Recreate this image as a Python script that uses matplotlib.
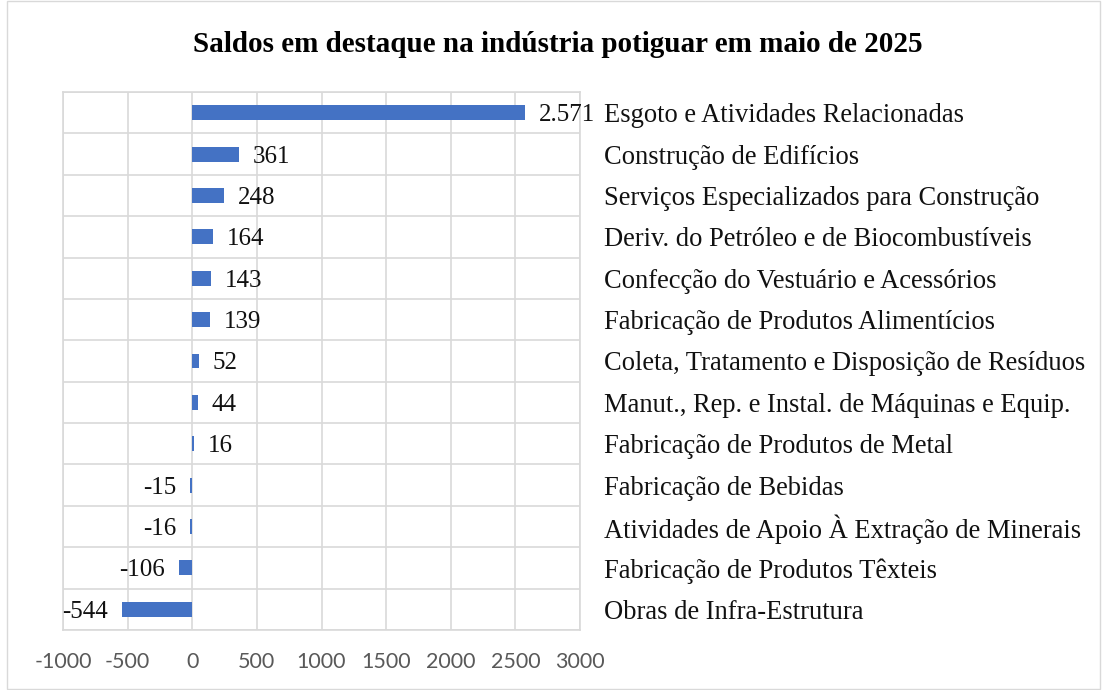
import matplotlib
matplotlib.use("Agg")
import matplotlib.pyplot as plt
import numpy as np

categories = [
    "Esgoto e Atividades Relacionadas",
    "Construção de Edifícios",
    "Serviços Especializados para Construção",
    "Deriv. do Petróleo e de Biocombustíveis",
    "Confecção do Vestuário e Acessórios",
    "Fabricação de Produtos Alimentícios",
    "Coleta, Tratamento e Disposição de Resíduos",
    "Manut., Rep. e Instal. de Máquinas e Equip.",
    "Fabricação de Produtos de Metal",
    "Fabricação de Bebidas",
    "Atividades de Apoio À Extração de Minerais",
    "Fabricação de Produtos Têxteis",
    "Obras de Infra-Estrutura",
]
values = [2571, 361, 248, 164, 143, 139, 52, 44, 16, -15, -16, -106, -544]
value_labels = ["2.571", "361", "248", "164", "143", "139", "52", "44", "16",
                "-15", "-16", "-106", "-544"]
xticks = [-1000, -500, 0, 500, 1000, 1500, 2000, 2500, 3000]
title = "Saldos em destaque na indústria potiguar em maio de 2025"

W, H = 1102, 690
fig = plt.figure(figsize=(W / 100, H / 100), dpi=100)
# figure border
fig.patches.append(plt.Rectangle((7 / W, 0.002), (W - 9) / W, 0.996, transform=fig.transFigure,
                                 fill=False, edgecolor="#D9D9D9", linewidth=1))

ax = fig.add_axes([63 / W, 1 - 630 / H, (580 - 63) / W, (630 - 92) / H])
n = len(categories)
ypos = np.arange(n)[::-1]
ax.barh(ypos, values, height=0.36, color="#4472C4", zorder=3)

serif = ["Liberation Serif", "DejaVu Serif"]
for y, v, lab in zip(ypos, values, value_labels):
    if v >= 0:
        ax.annotate(lab, (v, y), xytext=(10, 0), textcoords="offset points",
                    ha="left", va="center_baseline", fontsize=18, family=serif, color="#111111")
    else:
        ax.annotate(lab, (v, y), xytext=(-10, 0), textcoords="offset points",
                    ha="right", va="center_baseline", fontsize=18, family=serif, color="#111111")

ax.set_xlim(-1000, 3000)
ax.set_ylim(-0.5, n - 0.5)
ax.set_xticks(xticks)
ax.set_xticklabels([str(t) for t in xticks], family=["Lato", "DejaVu Sans"], fontsize=15.5, color="#595959")
ax.tick_params(axis="x", length=0, pad=16)

ax.set_yticks(ypos)
ax.set_yticklabels(categories, family=serif, fontsize=19.1, color="#111111")
ax.yaxis.tick_right()
ax.tick_params(axis="y", length=0, pad=17)
ax.set_yticks(np.arange(-0.5, n, 1.0), minor=True)
ax.tick_params(axis="y", which="minor", length=0)

ax.grid(axis="x", which="major", color="#D9D9D9", linewidth=1.2, zorder=0)
ax.grid(axis="y", which="minor", color="#D9D9D9", linewidth=1.2, zorder=0)
for s in ax.spines.values():
    s.set_color("#D9D9D9")
    s.set_linewidth(1.2)
ax.set_axisbelow(True)

fig.text(558 / W, 1 - 45 / H, title, ha="center", va="center", fontsize=21,
         fontweight="bold", family=serif, color="#000000")

fig.savefig("out.png", dpi=100, facecolor="white")
